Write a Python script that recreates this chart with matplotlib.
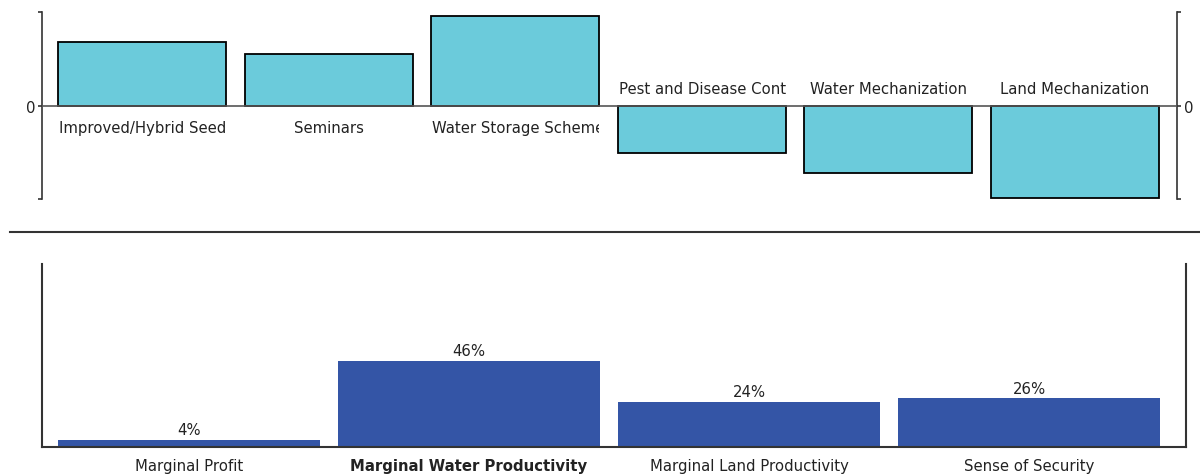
import numpy as np
import matplotlib
matplotlib.use('Agg')
import matplotlib.pyplot as plt
from matplotlib.transforms import Bbox, TransformedBbox

# top chart: measures, scored above / below zero
measures = ['Improved/Hybrid Seeds', 'Seminars', 'Water Storage Scheme',
            'Pest and Disease Control', 'Water Mechanization', 'Land Mechanization']
scores = [64, 52, 90, -47, -67, -92]

# bottom chart: share of each criterion (%)
criteria = ['Marginal Profit', 'Marginal Water Productivity',
            'Marginal Land Productivity', 'Sense of Security']
shares = [4, 46, 24, 26]
bold_criterion = 'Marginal Water Productivity'

plt.rcParams['font.family'] = 'DejaVu Sans'
txt_col = '#222222'
fs = 10.7

fig = plt.figure(figsize=(12, 4.77), dpi=100)

# ---------------- top chart ----------------
ax1 = fig.add_axes([0.035, 0.5807, 0.9458, 0.392])
x1 = np.arange(len(measures))
w1 = 0.9
bars = ax1.bar(x1, scores, width=w1, color='#6bcbdb', edgecolor='black', linewidth=1.3, zorder=2)
ax1.axhline(0, color='#555555', linewidth=1.2, zorder=3)
ax1.set_xlim(-0.536, 5.547)
ax1.set_ylim(-93.5, 93.5)
ax1.spines['top'].set_visible(False)
ax1.spines['bottom'].set_visible(False)
for s in ['left', 'right']:
    ax1.spines[s].set_color('#333333')
    ax1.spines[s].set_linewidth(1.2)
ax1.set_xticks([])
ax1.set_yticks([-93.5, 0, 93.5])
ax1.set_yticklabels(['', '0', ''])
ax1.tick_params(axis='y', direction='out', length=3, width=1.2, color='#333333',
                labelsize=fs, labelcolor=txt_col, left=True, right=True,
                labelleft=True, labelright=True, pad=2)

labels = []
for xi, name, val in zip(x1, measures, scores):
    ty = -22 if val > 0 else 17
    t = ax1.text(xi, ty, name, ha='center', va='center', fontsize=fs, color=txt_col)
    clip = TransformedBbox(Bbox([[xi - w1 / 2, -100], [xi + w1 / 2, 100]]), ax1.transData)
    t.set_clip_box(clip)
    t.set_clip_on(True)
    labels.append((t, xi))

# long labels: start at the bar's left edge and get cut off
fig.canvas.draw()
r = fig.canvas.get_renderer()
for t, xi in labels:
    bb = t.get_window_extent(r)
    left_px = ax1.transData.transform((xi - w1 / 2, 0))[0]
    right_px = ax1.transData.transform((xi + w1 / 2, 0))[0]
    if bb.width > right_px - left_px:
        t.set_x(xi - w1 / 2 + 0.005)
        t.set_ha('left')

# separator
fig.add_artist(plt.Line2D([10 / 1200, 1.0], [0.5115, 0.5115], color='#333333', linewidth=1.5))

# ---------------- bottom chart ----------------
ax2 = fig.add_axes([0.035, 0.0608, 0.9533, 0.3836])
x2 = np.arange(len(criteria))
w2 = 0.936
ax2.bar(x2, shares, width=w2, color='#3455a6', zorder=2)
ax2.set_xlim(-0.525, 3.56)
ax2.set_ylim(0, 98)
ax2.spines['top'].set_visible(False)
for s in ['left', 'right', 'bottom']:
    ax2.spines[s].set_color('#333333')
    ax2.spines[s].set_linewidth(1.5)
ax2.set_yticks([])
ax2.set_xticks(x2)
ax2.set_xticklabels(criteria, fontsize=fs, color=txt_col)
ax2.tick_params(axis='x', length=0, pad=8)
for lab in ax2.get_xticklabels():
    if lab.get_text() == bold_criterion:
        lab.set_fontweight('bold')
for xi, v in zip(x2, shares):
    ax2.text(xi, v + 1.5, '%d%%' % v, ha='center', va='bottom', fontsize=fs, color=txt_col)

fig.savefig('out.png', dpi=100)
